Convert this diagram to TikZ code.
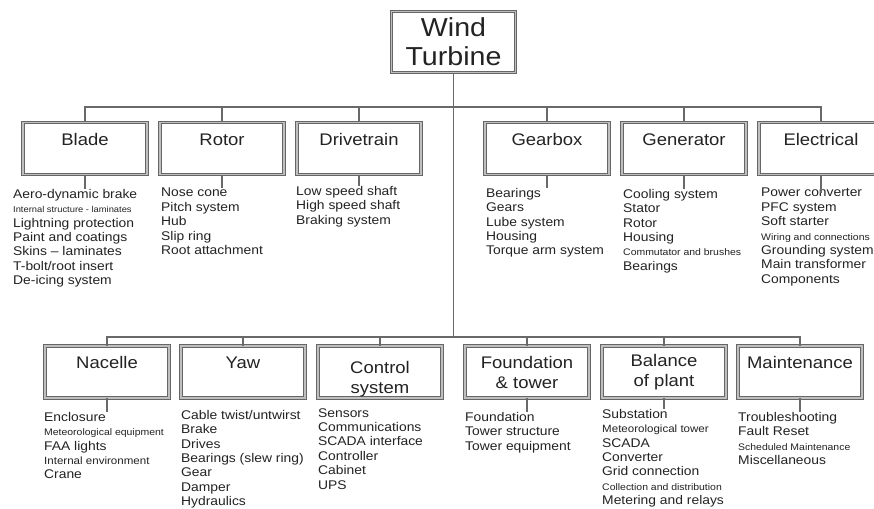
\documentclass[tikz,border=0pt]{standalone}
\usepackage{fontspec}
\setmainfont[FakeStretch=1.1]{Liberation Sans}
\definecolor{linegray}{RGB}{105,105,105}
\definecolor{textgray}{RGB}{35,35,35}
\newcommand{\tinyitem}[2][9.5]{{\fontsize{#1}{14.3}\selectfont #2}}

\begin{document}
\begin{tikzpicture}[x=1pt, y=-1pt,
    conn/.style={draw=linegray, line width=1.2pt},
    box/.style={draw=black!60, line width=0.7pt, double=gray!50,
        double distance=1.8pt, minimum width=124pt, minimum height=52pt,
        align=center, inner sep=0pt, text=textgray,
        font=\fontsize{16.8}{20}\selectfont},
    onebox/.style={box, text height=12pt, text depth=19pt},
    items/.style={anchor=north west, align=left, inner sep=0pt,
        text=textgray, font=\fontsize{12.6}{14.4}\selectfont}]
\path[use as bounding box, fill=white] (0,0) rectangle (874,508);

% root
\node[box, minimum height=61pt, font=\fontsize{26}{29}\selectfont]
    (root) at (453.5,42) {Wind\\Turbine};
\coordinate (topbus) at (453.5,107);
\coordinate (lowbus) at (453.5,337);

% upper row
\node[onebox] (blade) at (85,148.5) {Blade};
\node[onebox] (rotor) at (222,148.5) {Rotor};
\node[onebox] (drivetrain) at (359,148.5) {Drivetrain};
\node[onebox] (gearbox) at (547,148.5) {Gearbox};
\node[onebox] (generator) at (684,148.5) {Generator};
\node[onebox] (electrical) at (821,148.5) {Electrical};

\node[items] (bladelist) at (13,189) {Aero-dynamic brake\\
    \tinyitem[8.5]{Internal structure - laminates}\\ Lightning protection\\
    Paint and coatings\\ Skins – laminates\\ T-bolt/root insert\\
    De-icing system};
\node[items] (rotorlist) at (161,188) {Nose cone\\ Pitch system\\ Hub\\
    Slip ring\\ Root attachment};
\node[items] (drivetrainlist) at (296,186) {Low speed shaft\\
    High speed shaft\\ Braking system};
\node[items] (gearboxlist) at (486,188) {Bearings\\ Gears\\ Lube system\\
    Housing\\ Torque arm system};
\node[items] (generatorlist) at (623,189) {Cooling system\\ Stator\\ Rotor\\
    Housing\\ \tinyitem{Commutator and brushes}\\ Bearings};
\node[items] (electricallist) at (761,188) {Power converter\\ PFC system\\
    Soft starter\\ \tinyitem{Wiring and connections}\\ Grounding system\\
    Main transformer\\ Components};

% lower row
\node[onebox] (nacelle) at (107,372) {Nacelle};
\node[onebox] (yaw) at (243,372) {Yaw};
\node[box] (control) at (380,372) {\rule{0pt}{26pt}Control\\system};
\node[box] (foundation) at (527,372) {Foundation\\\& tower};
\node[box] (balance) at (664,372) {Balance\\of plant};
\node[onebox] (maintenance) at (800,372) {Maintenance};

\node[items] (nacellelist) at (44,412) {Enclosure\\
    \tinyitem{Meteorological equipment}\\ FAA lights\\
    \tinyitem[10.5]{Internal environment}\\ Crane};
\node[items] (yawlist) at (181,410) {Cable twist/untwirst\\ Brake\\ Drives\\
    Bearings (slew ring)\\ Gear\\ Damper\\ Hydraulics};
\node[items] (controllist) at (318,408) {Sensors\\ Communications\\
    SCADA interface\\ Controller\\ Cabinet\\ UPS};
\node[items] (foundationlist) at (465,412) {Foundation\\ Tower structure\\
    Tower equipment};
\node[items] (balancelist) at (602,409) {Substation\\
    \tinyitem[10.5]{Meteorological tower}\\ SCADA\\ Converter\\
    Grid connection\\ \tinyitem{Collection and distribution}\\
    Metering and relays};
\node[items] (maintenancelist) at (738,412) {Troubleshooting\\ Fault Reset\\
    \tinyitem{Scheduled Maintenance}\\ Miscellaneous};

% buses
\draw[conn] (root.south) -- (lowbus);
\draw[conn] (blade.north) -- (blade.north |- topbus)
    -- (electrical.north |- topbus) -- (electrical.north);
\draw[conn] (rotor.north) -- (rotor.north |- topbus);
\draw[conn] (drivetrain.north) -- (drivetrain.north |- topbus);
\draw[conn] (gearbox.north) -- (gearbox.north |- topbus);
\draw[conn] (generator.north) -- (generator.north |- topbus);
\draw[conn] (nacelle.north) -- (nacelle.north |- lowbus)
    -- (maintenance.north |- lowbus) -- (maintenance.north);
\draw[conn] (yaw.north) -- (yaw.north |- lowbus);
\draw[conn] (control.north) -- (control.north |- lowbus);
\draw[conn] (foundation.north) -- (foundation.north |- lowbus);
\draw[conn] (balance.north) -- (balance.north |- lowbus);

% drops to the lists
\draw[conn] (blade.south) -- (blade.south |- bladelist.north);
\draw[conn] (rotor.south) -- (rotor.south |- rotorlist.north);
\draw[conn] (drivetrain.south) -- (drivetrain.south |- drivetrainlist.north);
\draw[conn] (gearbox.south) -- (gearbox.south |- gearboxlist.north);
\draw[conn] (generator.south) -- (generator.south |- generatorlist.north);
\draw[conn] (electrical.south) -- ([yshift=-5pt]electrical.south |- electricallist.north);
\draw[conn] (nacelle.south) -- (nacelle.south |- nacellelist.north);
\draw[conn] (foundation.south) -- (foundation.south |- foundationlist.north);
\draw[conn] (balance.south) -- (balance.south |- balancelist.north);
\draw[conn] (maintenance.south) -- (maintenance.south |- maintenancelist.north);
\end{tikzpicture}
\end{document}
